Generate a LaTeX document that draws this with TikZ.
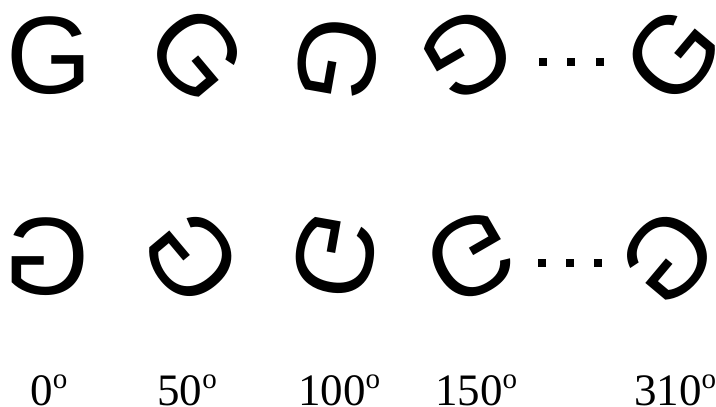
\documentclass[tikz,border=0pt]{standalone}
\usepackage{fontspec}
\newfontfamily\gfont{Liberation Sans}
\newfontfamily\lfont{Liberation Serif}
\newcommand{\degsup}{\raisebox{17pt}{\fontsize{29}{29}\selectfont o}}
\begin{document}
\begin{tikzpicture}[x=1pt,y=1pt,
  glyph/.style={font=\gfont\fontsize{110}{110}\selectfont, inner sep=0pt, outer sep=0pt},
  dotsq/.style={rectangle, fill=black, draw=none, minimum size=8pt, inner sep=0pt},
  angle/.style={font=\lfont\fontsize{45}{45}\selectfont, inner sep=0pt, anchor=base}]
\useasboundingbox (0,0) rectangle (716,407);
% top row: G rotated clockwise
\node[glyph] (t0) at (49,351) {G};
\node[glyph, rotate=-50] (t50) at (197,353) {G};
\node[glyph, rotate=-100] (t100) at (337,347) {G};
\node[glyph, rotate=-150] (t150) at (467,352) {G};
\node[glyph, rotate=-310] (t310) at (673,352) {G};
\node[dotsq] (td1) at (543,345) {};
\node[dotsq] (td2) at (571,345) {};
\node[dotsq] (td3) at (600,345) {};
% bottom row: mirrored G rotated clockwise
\node[glyph, rotate=0, xscale=-1] (b0) at (47,150) {G};
\node[glyph, rotate=-50, xscale=-1] (b50) at (192,150) {G};
\node[glyph, rotate=-100, xscale=-1] (b100) at (335,151) {G};
\node[glyph, rotate=-150, xscale=-1] (b150) at (471,150) {G};
\node[glyph, rotate=-310, xscale=-1] (b310) at (668,150) {G};
\node[dotsq] (bd1) at (542,144) {};
\node[dotsq] (bd2) at (570,144) {};
\node[dotsq] (bd3) at (598,144) {};
% labels
\node[angle] (l0) at (49,1) {0\degsup};
\node[angle] (l50) at (187,1) {50\degsup};
\node[angle] (l100) at (339,1) {100\degsup};
\node[angle] (l150) at (476,1) {150\degsup};
\node[angle] (l310) at (675,1) {310\degsup};
\end{tikzpicture}
\end{document}
